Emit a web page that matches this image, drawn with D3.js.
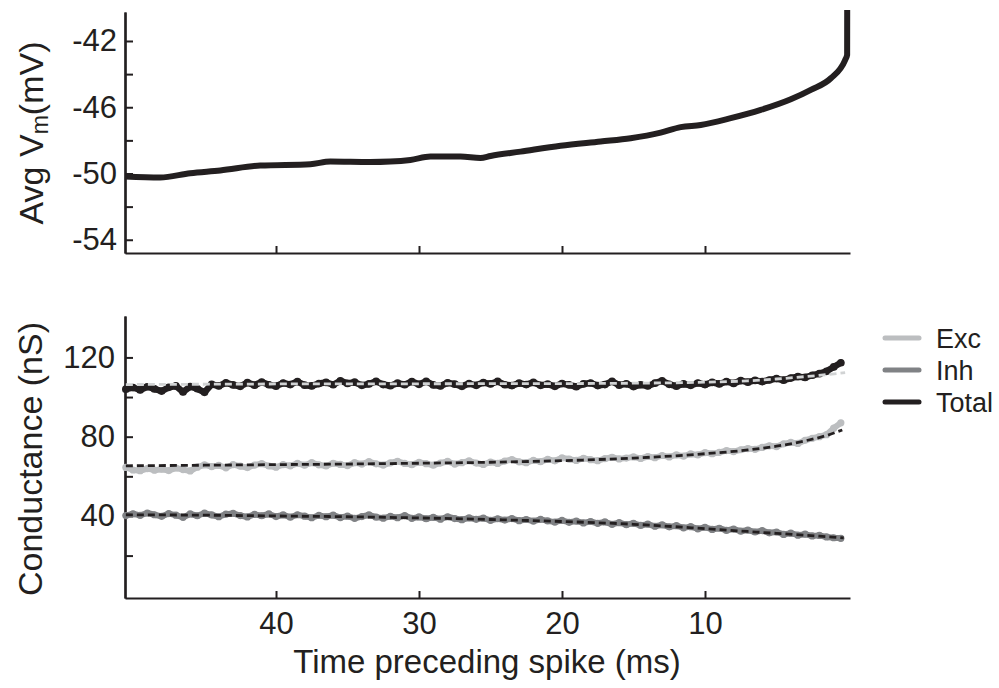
<!DOCTYPE html>
<html>
<head>
<meta charset="utf-8">
<script src="https://cdn.jsdelivr.net/npm/d3@7"></script>
<style>
  html, body { margin: 0; padding: 0; background: #ffffff; }
  svg { display: block; font-family: "Liberation Sans", Arial, Helvetica, sans-serif; }
</style>
</head>
<body>
<svg id="chart" width="999" height="688"></svg>
<script>
// ---------------- DATA ----------------
// Top panel: average membrane potential (mV) vs time preceding spike (ms)
const vmTimes  = [50.56, 48.1, 46.0, 43.9, 41.1, 37.6, 36.2, 33.4, 32.0, 30.6, 29.2, 27.1, 25.7, 25.0,
                  22.9, 20.1, 17.3, 15.2, 13.1, 11.7, 10.3, 8.2, 6.1, 4.0, 2.6, 1.2, 0.2, 0.06, 0.05];
const vmValues = [-50.18, -50.24, -49.98, -49.82, -49.52, -49.44, -49.28, -49.31, -49.28, -49.18, -48.98, -48.98, -49.06, -48.94,
                  -48.68, -48.33, -48.07, -47.87, -47.53, -47.20, -47.07, -46.66, -46.16, -45.52, -44.95, -44.25, -43.15, -42.84, -36.0];

// Bottom panel: conductance traces sampled every 0.5 ms from 50.5 ms to 0.5 ms before the spike
const sampleTimes = d3.range(50.5, 0.4, -0.5);
const totalValues = [
  104.0,104.8,103.6,105.2,104.1,103.0,104.9,105.6,102.6,105.3,
  104.2,102.4,106.4,105.6,107.2,106.1,105.4,107.3,106.0,107.6,
  106.2,105.5,107.1,106.3,107.8,106.0,105.6,106.8,107.4,106.2,
  108.2,106.9,107.5,105.9,106.6,107.9,106.3,105.7,107.0,106.2,
  107.8,106.4,107.9,106.1,105.6,107.2,106.5,105.4,106.8,105.9,
  107.3,106.6,107.9,106.2,105.8,107.0,106.3,107.4,105.9,106.5,
  105.4,106.8,106.1,105.2,106.6,107.1,105.8,106.3,107.9,106.0,
  106.7,105.3,106.2,105.6,107.0,108.2,106.4,105.5,106.6,105.9,
  107.1,106.3,107.4,106.6,107.8,106.9,108.3,107.5,108.4,107.8,
  108.6,109.3,108.5,109.6,110.3,109.9,111.0,111.8,113.0,115.2,
  117.3];
const excValues = [
  64.5,63.2,62.8,63.9,63.1,63.6,62.9,64.2,63.4,62.7,
  64.6,65.8,64.9,65.5,64.3,65.9,65.1,64.4,65.7,66.4,
  65.2,64.6,65.9,65.3,66.5,65.6,66.9,65.8,65.2,66.6,
  66.0,65.4,66.9,66.2,67.4,66.3,65.7,66.8,67.6,66.5,
  65.9,67.1,66.4,65.6,66.7,67.5,66.2,66.9,67.8,66.7,
  66.0,67.2,66.5,67.7,68.5,67.3,66.9,68.0,67.4,68.6,
  67.8,69.3,68.7,68.0,69.1,68.4,67.9,68.9,69.6,68.8,
  69.2,69.8,69.0,70.0,69.4,70.5,69.8,70.8,70.2,71.3,
  70.8,72.0,71.4,72.1,73.0,72.5,73.4,74.0,73.6,74.6,
  75.4,75.0,76.4,77.1,76.6,78.2,79.2,80.0,81.0,84.3,
  87.0];
const inhValues = [
  40.2,41.1,40.3,41.5,40.6,39.8,41.2,40.4,39.3,41.0,
  40.1,41.4,40.5,39.6,40.9,41.3,40.2,39.5,40.8,40.1,
  41.0,39.7,40.5,39.4,40.6,39.9,39.1,40.3,39.6,40.4,
  39.2,39.9,38.8,39.7,40.5,39.4,38.9,39.8,39.1,40.2,
  38.8,39.5,38.6,39.3,38.4,39.6,38.7,38.1,39.0,38.3,
  38.9,37.8,38.6,37.9,38.7,37.6,38.2,37.4,38.3,37.5,
  36.9,37.8,36.8,37.4,36.5,37.2,36.3,37.0,35.8,36.6,
  35.6,36.3,35.2,35.9,34.8,35.5,34.5,35.1,34.0,34.6,
  33.5,34.3,33.2,33.8,32.7,33.4,32.3,32.9,31.9,32.6,
  31.5,31.9,30.7,31.3,30.3,30.8,29.9,30.2,29.4,29.0,
  28.7];

// Fitted curves (dashed)
const totalFitTimes  = [50.5, 40, 30, 20, 15, 10, 7, 5, 3, 1.5, 0.2];
const totalFitValues = [106.3, 106.6, 106.7, 106.8, 107.0, 107.5, 108.2, 109.1, 110.3, 111.3, 112.3];
const excFitTimes    = [50.5, 45, 40, 35, 30, 25, 20, 15, 10, 7, 5, 3, 1.5, 0.4];
const excFitValues   = [65.3, 65.6, 65.9, 66.2, 66.6, 67.1, 67.9, 69.2, 71.4, 73.3, 75.2, 77.9, 80.6, 83.4];
const inhFitTimes    = [50.5, 45, 40, 35, 30, 25, 20, 15, 10, 5, 2, 0.3];
const inhFitValues   = [40.6, 40.4, 40.0, 39.6, 39.0, 38.2, 37.2, 35.8, 33.6, 31.2, 29.8, 28.9];

// Axis ticks
const xTicks        = [40, 30, 20, 10];
const vmMajorTicks  = [-42, -46, -50, -54];
const vmMinorTicks  = [-44, -48, -52];
const gMajorTicks   = [40, 80, 120];
const gMinorTicks   = [20, 60, 100];

const legendLabels  = ["Exc", "Inh", "Total"];
const seriesColors  = { Exc: "#bcbec0", Inh: "#808285", Total: "#231f20" };

// ---------------- DRAWING ----------------
const ink = "#231f20";
const svg = d3.select("#chart");

const x = d3.scaleLinear().domain([50.56, -0.14]).range([125, 850]);
const yTop = d3.scaleLinear().domain([-54.8, -40.25]).range([253, 12]);
const yBot = d3.scaleLinear().domain([-1.4, 140.9]).range([598, 316]);

const zip = (ts, vs) => ts.map((t, i) => ({ t, v: vs[i] }));

function styleAxis(g, fontSize) {
  g.select(".domain").attr("stroke", ink).attr("stroke-width", 2.2);
  g.selectAll(".tick line").attr("stroke", ink).attr("stroke-width", 2);
  g.selectAll(".tick text").attr("fill", ink).style("font-size", fontSize + "px")
    .style("font-family", '"Liberation Sans", Arial, Helvetica, sans-serif');
}

// ---- Top panel ----
svg.append("defs").append("clipPath").attr("id", "clipTop")
  .append("rect").attr("x", 120).attr("y", 10).attr("width", 740).attr("height", 250);

const gTopY = svg.append("g").attr("transform", "translate(125,0)")
  .call(d3.axisLeft(yTop).tickValues(vmMajorTicks).tickSizeInner(-8).tickSizeOuter(0).tickPadding(8)
    .tickFormat(d => String(d)));
styleAxis(gTopY, 31);
const gTopYm = svg.append("g").attr("transform", "translate(125,0)")
  .call(d3.axisLeft(yTop).tickValues(vmMinorTicks).tickSizeInner(-8).tickSizeOuter(0).tickFormat(""));
styleAxis(gTopYm, 31);

const gTopX = svg.append("g").attr("transform", "translate(0,253)")
  .call(d3.axisBottom(x).tickValues(xTicks).tickSizeInner(-7).tickSizeOuter(0).tickFormat(""));
styleAxis(gTopX, 31);

const vmLine = d3.line().x(d => x(d.t)).y(d => yTop(d.v)).curve(d3.curveMonotoneX);
svg.append("path")
  .datum(zip(vmTimes, vmValues))
  .attr("clip-path", "url(#clipTop)")
  .attr("d", vmLine)
  .attr("fill", "none").attr("stroke", ink).attr("stroke-width", 6)
  .attr("stroke-linejoin", "round");

// Top y label with subscript
const topLabel = svg.append("text")
  .attr("transform", `translate(43,133) rotate(-90)`)
  .attr("text-anchor", "middle").attr("fill", ink)
  .style("font-size", "34px");
topLabel.append("tspan").text("Avg V");
topLabel.append("tspan").text("m").style("font-size", "23px").attr("dy", "0.22em");
topLabel.append("tspan").text("(mV)").attr("dy", "-0.15em");

// ---- Bottom panel ----
const gBotY = svg.append("g").attr("transform", "translate(125,0)")
  .call(d3.axisLeft(yBot).tickValues(gMajorTicks).tickSizeInner(-8).tickSizeOuter(0).tickPadding(10));
styleAxis(gBotY, 31);
const gBotYm = svg.append("g").attr("transform", "translate(125,0)")
  .call(d3.axisLeft(yBot).tickValues(gMinorTicks).tickSizeInner(-8).tickSizeOuter(0).tickFormat(""));
styleAxis(gBotYm, 31);

const gBotX = svg.append("g").attr("transform", "translate(0,598)")
  .call(d3.axisBottom(x).tickValues(xTicks).tickSizeInner(-7).tickSizeOuter(0).tickPadding(14));
styleAxis(gBotX, 31);

const gLine = d3.line().x(d => x(d.t)).y(d => yBot(d.v)).curve(d3.curveLinear);
const fitLine = d3.line().x(d => x(d.t)).y(d => yBot(d.v)).curve(d3.curveMonotoneX);

function trace(vals, color, w) {
  const data = zip(sampleTimes, vals);
  svg.append("path").datum(data).attr("d", gLine)
    .attr("fill", "none").attr("stroke", color).attr("stroke-width", w)
    .attr("stroke-linejoin", "round").attr("stroke-linecap", "round");
  svg.append("g").selectAll("circle").data(data).join("circle")
    .attr("cx", d => x(d.t)).attr("cy", d => yBot(d.v)).attr("r", w / 2 + 0.6)
    .attr("fill", color);
}
function fit(ts, vs, color) {
  svg.append("path").datum(zip(ts, vs)).attr("d", fitLine)
    .attr("fill", "none").attr("stroke", color).attr("stroke-width", 2.8)
    .attr("stroke-dasharray", "7,4");
}

trace(totalValues, seriesColors.Total, 6.5);
fit(totalFitTimes, totalFitValues, "#d1d3d4");
trace(excValues, seriesColors.Exc, 6);
fit(excFitTimes, excFitValues, ink);
trace(inhValues, seriesColors.Inh, 6);
fit(inhFitTimes, inhFitValues, ink);

svg.append("text")
  .attr("transform", `translate(42,459) rotate(-90)`)
  .attr("text-anchor", "middle").attr("fill", ink)
  .style("font-size", "34px")
  .text("Conductance (nS)");

svg.append("text")
  .attr("x", 487).attr("y", 673)
  .attr("text-anchor", "middle").attr("fill", ink)
  .style("font-size", "33px")
  .text("Time preceding spike (ms)");

// Legend
const legendY = d3.scalePoint().domain(legendLabels).range([338, 402]);
const leg = svg.append("g");
legendLabels.forEach(k => {
  leg.append("line").attr("x1", 885).attr("x2", 919)
    .attr("y1", legendY(k)).attr("y2", legendY(k))
    .attr("stroke", seriesColors[k]).attr("stroke-width", 5).attr("stroke-linecap", "round");
  leg.append("text").attr("x", 936).attr("y", legendY(k)).attr("dy", "0.36em")
    .attr("fill", ink).style("font-size", "27px").text(k);
});
</script>
</body>
</html>
